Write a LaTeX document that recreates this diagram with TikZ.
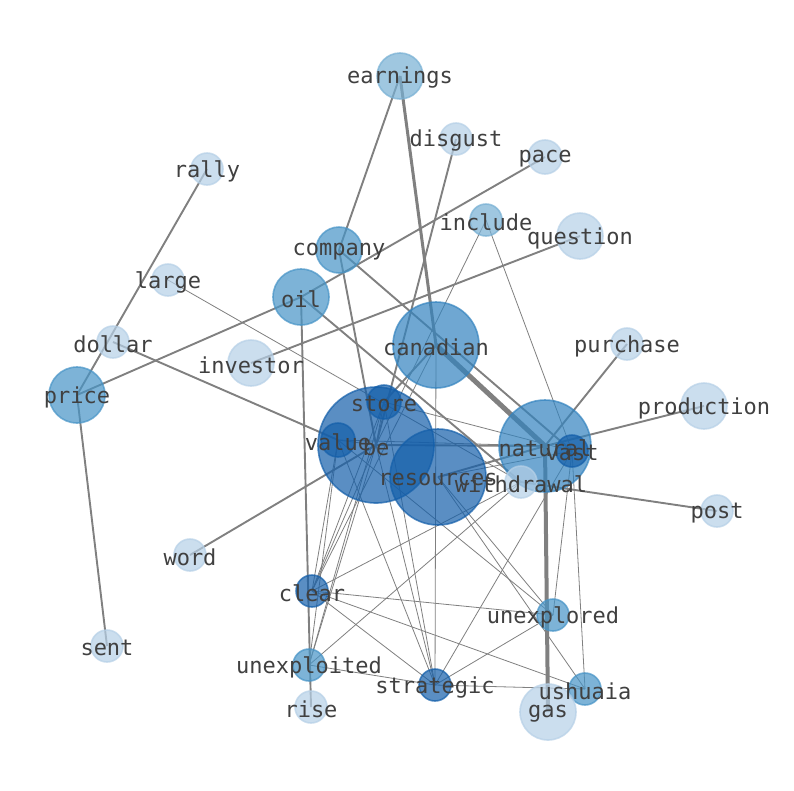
\documentclass[tikz,border=0pt]{standalone}
\usepackage{fontspec}
\setmonofont{DejaVu Sans Mono}
\usepackage{tikz}
\usetikzlibrary{backgrounds}
\definecolor{wA}{RGB}{182,208,231}
\definecolor{wB}{RGB}{119,176,212}
\definecolor{wC}{RGB}{71,148,199}
\definecolor{wD}{RGB}{51,131,191}
\definecolor{wE}{RGB}{20,95,170}
\definecolor{lblgray}{RGB}{64,64,64}
\definecolor{edgegray}{RGB}{128,128,128}

\begin{document}
\begin{tikzpicture}[x=1pt, y=-1pt,
  tok/.style={circle, inner sep=0pt, outer sep=0pt, line width=1.6pt,
              fill opacity=0.7, draw opacity=0.7},
  lbl/.style={inner sep=0pt, yshift=-2pt, font=\ttfamily\fontsize{22}{22}\selectfont, text=lblgray},
  thinedge/.style={draw=edgegray, line width=0.8pt},
  midedge/.style={draw=edgegray, line width=1.9pt},
  boldedge/.style={draw=edgegray, line width=3pt},
  heavyedge/.style={draw=edgegray, line width=5pt}
]
  \useasboundingbox (0,0) rectangle (794,790);

  % word nodes
  \foreach \n/\x/\y/\r/\c in {
      earnings/400/76/23/wB, disgust/456/139/16/wA, pace/545/157/17/wA,
      rally/207/169/16/wA, include/486/220/16/wB, question/580/236/23/wA,
      company/339/250/23/wC, large/168/280/16/wA, oil/301/297/28/wC,
      canadian/436/345/43/wD, purchase/627/344/16/wA, dollar/113/342/16/wA,
      investor/251/363/23/wA, price/77/395/28/wC, production/704/406/23/wA,
      be/376/445/58/wE, resources/438/477/48/wE, natural/545/446/46/wD,
      store/384/402/17/wE, value/338/440/17/wE, vast/572/451/16/wE,
      withdrawal/521/482/16/wA, post/717/511/16/wA, word/190/555/16/wA,
      clear/312/591/16/wE, unexplored/553/615/16/wC, sent/107/646/16/wA,
      unexploited/309/665/16/wC, strategic/435/685/16/wE, ushuaia/585/689/16/wC,
      rise/311/707/16/wA, gas/548/712/28/wA}
    \node[tok, draw=\c, fill=\c, minimum size=\r*2pt] (\n) at (\x,\y) {};

  % labels on top
  \foreach \n in {earnings, disgust, pace, rally, include, question, company,
      large, oil, canadian, purchase, dollar, investor, price, production, be,
      resources, natural, store, value, vast, withdrawal, post, word, clear,
      unexplored, sent, unexploited, strategic, ushuaia, rise, gas}
    \node[lbl] (l-\n) at (\n.center) {\n};

  \begin{pgfonlayer}{background}
    \fill[white] (0,0) rectangle (794,790);
    % co-occurrence links
    \foreach \a/\b in {earnings/company, disgust/be, company/be, company/vast,
        oil/pace, oil/price, oil/rise, oil/withdrawal, investor/question,
        rally/price, price/sent, dollar/value, word/be, canadian/store,
        natural/purchase, natural/production, withdrawal/post, be/natural,
        resources/natural}
      \draw[midedge] (\a.center) -- (\b.center);
    \foreach \a/\b in {include/be, include/vast, large/withdrawal,
        canadian/strategic, clear/value, clear/be, clear/store, clear/canadian,
        clear/withdrawal, clear/unexplored, clear/ushuaia, clear/strategic,
        unexploited/value, unexploited/be, unexploited/store,
        unexploited/strategic, unexploited/withdrawal, strategic/value,
        strategic/be, strategic/store, strategic/vast, strategic/unexplored,
        strategic/ushuaia, unexplored/resources, unexplored/value,
        unexplored/vast, ushuaia/vast, ushuaia/resources, store/vast,
        resources/vast, value/natural, value/be, store/be}
      \draw[thinedge] (\a.center) -- (\b.center);
    \draw[boldedge] (earnings.center) -- (canadian.center);
    \draw[boldedge, line width=4pt] (natural.center) -- (gas.center);
    \draw[heavyedge] (canadian.center) -- (natural.center);
  \end{pgfonlayer}
\end{tikzpicture}
\end{document}
